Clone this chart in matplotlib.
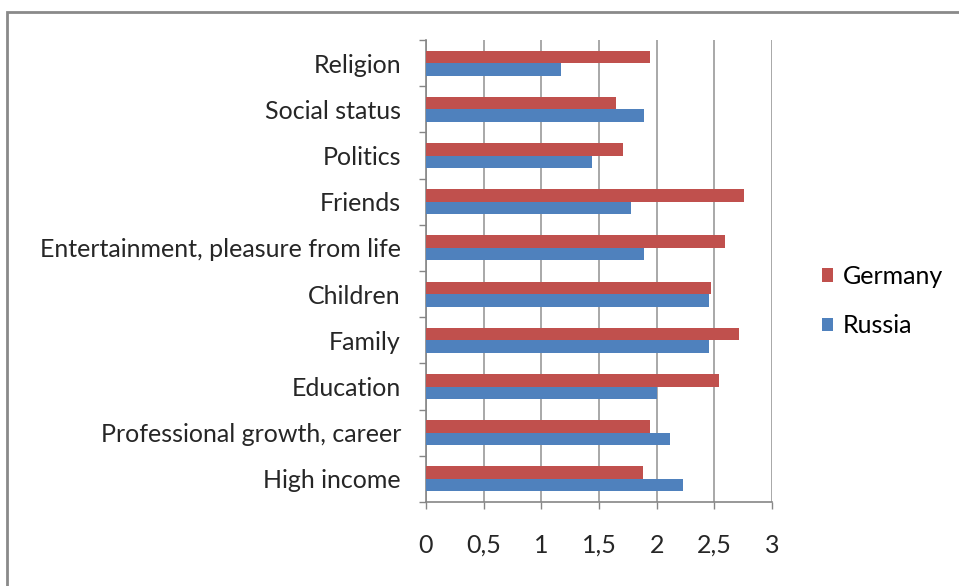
import matplotlib
matplotlib.use('Agg')
import matplotlib.pyplot as plt
from matplotlib.patches import Rectangle
import numpy as np

# Values (bottom to top)
categories = ['High income', 'Professional growth, career', 'Education', 'Family',
              'Children', 'Entertainment, pleasure from life', 'Friends',
              'Politics', 'Social status', 'Religion']
germany = [1.88, 1.94, 2.54, 2.71, 2.47, 2.59, 2.76, 1.71, 1.65, 1.94]
russia = [2.23, 2.12, 2.00, 2.45, 2.45, 1.89, 1.78, 1.44, 1.89, 1.17]
xticks = [0, 0.5, 1, 1.5, 2, 2.5, 3]
xtick_labels = ['0', '0,5', '1', '1,5', '2', '2,5', '3']

plt.rcParams['font.family'] = ['Lato', 'DejaVu Sans']
fs = 18

fig = plt.figure(figsize=(9.59, 5.86), dpi=100)
ax = fig.add_axes([0.4442, 0.1433, 0.3608, 0.7884])

# Outer chart border
fig.patches.append(Rectangle((7 / 959, -0.1), 1.2, 1 - 12 / 586 + 0.1,
                             transform=fig.transFigure, fill=False,
                             edgecolor='#8a8a8a', linewidth=2))

y = np.arange(len(categories))
h = 0.27
ax.barh(y + h / 2, germany, height=h, color='#C0504D', label='Germany', zorder=3)
ax.barh(y - h / 2, russia, height=h, color='#4F81BD', label='Russia', zorder=3)

ax.set_xlim(0, 3)
ax.set_ylim(-0.5, len(categories) - 0.5)
ax.set_xticks(xticks)
ax.set_xticklabels(xtick_labels, fontsize=fs, color='#262626')
ax.xaxis.grid(True, color='#9a9a9a', linewidth=1.2, zorder=0)
ax.tick_params(axis='x', length=5, width=1, color='#868686', pad=18)

# category boundaries as ticks, labels at centres
ax.set_yticks(np.arange(len(categories) + 1) - 0.5)
ax.set_yticklabels([])
ax.set_yticks(y, minor=True)
ax.set_yticklabels(categories, minor=True, fontsize=fs, color='#262626')
ax.tick_params(axis='y', which='major', length=5, width=1, color='#868686')
ax.tick_params(axis='y', which='minor', length=0, pad=18)

for s in ['top', 'right']:
    ax.spines[s].set_visible(False)
for s in ['left', 'bottom']:
    ax.spines[s].set_color('#868686')
    ax.spines[s].set_linewidth(1.2)

handles, labels = ax.get_legend_handles_labels()
fig.legend(handles, labels, loc='center left', bbox_to_anchor=(0.857, 0.486),
           frameon=False, fontsize=fs, handlelength=0.45, handleheight=0.45,
           handletextpad=0.4, labelspacing=1.05, borderpad=0, borderaxespad=0)

fig.savefig('out.png', dpi=100, facecolor='white')
